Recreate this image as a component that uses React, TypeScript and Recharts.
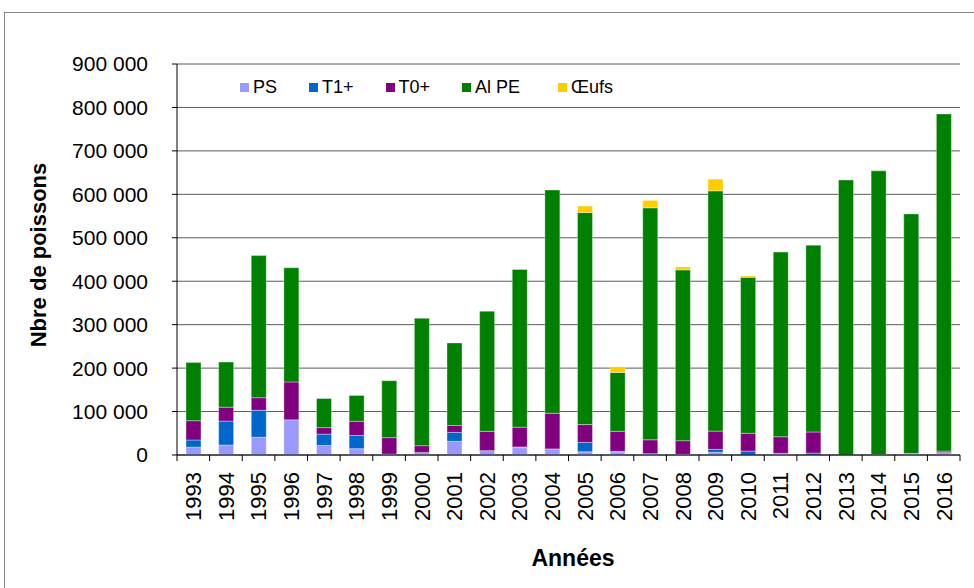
import React from 'react';
import { BarChart, Bar, XAxis, YAxis, CartesianGrid, Label } from 'recharts';

const years = ['1993', '1994', '1995', '1996', '1997', '1998', '1999', '2000', '2001', '2002', '2003', '2004',
  '2005', '2006', '2007', '2008', '2009', '2010', '2011', '2012', '2013', '2014', '2015', '2016'];

const ps = [18000, 23000, 41000, 81000, 22000, 14500, 2000, 3000, 31500, 10000, 17000, 14000,
  7500, 7000, 1000, 1500, 6000, 0, 2000, 0, 0, 0, 3500, 5500];
const t1 = [16500, 55000, 62000, 0, 26000, 30500, 0, 3000, 20500, 0, 1500, 0,
  21500, 1500, 2000, 0, 7000, 9000, 2000, 4500, 0, 1000, 0, 0];
const t0 = [44500, 32000, 29000, 87000, 15000, 32500, 38000, 15500, 16000, 44500, 45500, 82000,
  41000, 46000, 32000, 31500, 42000, 41000, 38000, 48500, 0, 0, 0, 3500];
const alpe = [134000, 104000, 327000, 263000, 67000, 59500, 131000, 293000, 190000, 276500, 363000, 514000,
  488000, 135500, 534000, 393000, 553000, 359000, 425000, 430000, 633000, 653000, 551500, 776000];
const oeufs = [0, 0, 0, 0, 0, 0, 0, 0, 0, 0, 0, 0,
  15000, 13000, 17000, 7000, 27000, 3000, 0, 0, 0, 0, 0, 0];

const yTicks = [0, 100000, 200000, 300000, 400000, 500000, 600000, 700000, 800000, 900000];

const series = [
  { key: 'ps', name: 'PS', color: '#9999FF' },
  { key: 't1', name: 'T1+', color: '#0066CC' },
  { key: 't0', name: 'T0+', color: '#800080' },
  { key: 'alpe', name: 'Al PE', color: '#008000' },
  { key: 'oeufs', name: 'Œufs', color: '#FFCC00' },
];

const data = years.map((year, i) => ({
  year,
  ps: ps[i],
  t1: t1[i],
  t0: t0[i],
  alpe: alpe[i],
  oeufs: oeufs[i],
}));

const FONT = '"Liberation Sans", Arial, sans-serif';
const PLOT_LEFT = 177;
const PLOT_RIGHT = 960;
const band = (PLOT_RIGHT - PLOT_LEFT) / years.length;

const fmt = (v: number) => String(v).replace(/\B(?=(\d{3})+(?!\d))/g, ' ');

// Excel puts the tick marks between categories, not under them
const YearTick = (props: any) => {
  const { x, y, payload, index } = props;
  const axisY = y - 17;
  return (
    <g>
      <line x1={x - band / 2} y1={axisY} x2={x - band / 2} y2={axisY + 6} stroke="#000" />
      {index === years.length - 1 && (
        <line x1={x + band / 2} y1={axisY} x2={x + band / 2} y2={axisY + 6} stroke="#000" />
      )}
      <text
        x={x}
        y={y}
        dy="0.36em"
        transform={`rotate(-90 ${x} ${y})`}
        textAnchor="end"
        fontSize={22}
        fontFamily={FONT}
        fill="#000"
      >
        {payload.value}
      </text>
    </g>
  );
};

const Legende = () => (
  <div
    style={{
      position: 'absolute',
      left: 240,
      top: 77,
      height: 20,
      display: 'flex',
      alignItems: 'center',
      fontFamily: FONT,
      fontSize: 18,
      color: '#000',
    }}
  >
    {series.map((s, i) => (
      <div key={s.key} style={{ display: 'flex', alignItems: 'center', marginRight: i === 3 ? 38 : 32 }}>
        <span style={{ width: 9, height: 9, background: s.color, marginRight: 4 }} />
        <span>{s.name}</span>
      </div>
    ))}
  </div>
);

export default function App() {
  return (
    <div style={{ position: 'relative', width: 974, height: 588, overflow: 'hidden', background: '#fff' }}>
      <style>{`body { margin: 0; }`}</style>
      <div
        style={{
          position: 'absolute',
          left: 4,
          top: 12,
          width: 1100,
          height: 1100,
          border: '1px solid #868686',
        }}
      />
      <BarChart
        width={974}
        height={588}
        data={data}
        margin={{ top: 64, right: 974 - PLOT_RIGHT, left: 0, bottom: 0 }}
        barSize={15}
        style={{ position: 'absolute', left: 0, top: 0 }}
      >
        <CartesianGrid vertical={false} stroke="#5a5a5a" />
        <XAxis
          dataKey="year"
          interval={0}
          height={133}
          axisLine={{ stroke: '#000' }}
          tickLine={false}
          tickSize={6}
          tickMargin={11}
          tick={<YearTick />}
        >
          <Label
            content={() => (
              <text x={573} y={566} textAnchor="middle" fontSize={23} fontWeight="bold" fontFamily={FONT} fill="#000">
                Années
              </text>
            )}
          />
        </XAxis>
        <XAxis xAxisId="top" orientation="top" dataKey="year" height={0} tick={false} tickLine={false}
          axisLine={{ stroke: '#8c8c8c', strokeWidth: 2 }} />
        <YAxis
          width={PLOT_LEFT}
          domain={[0, 900000]}
          ticks={yTicks}
          interval={0}
          tickFormatter={fmt}
          axisLine={{ stroke: '#000' }}
          tickLine={{ stroke: '#000' }}
          tickSize={5}
          tickMargin={24}
          tick={{ fontSize: 21, fontFamily: FONT, fill: '#000' }}
        >
          <Label
            content={() => (
              <text
                x={38}
                y={255}
                dy="0.36em"
                transform="rotate(-90 38 255)"
                textAnchor="middle"
                fontSize={22}
                fontWeight="bold"
                fontFamily={FONT}
                fill="#000"
              >
                Nbre de poissons
              </text>
            )}
          />
        </YAxis>
        <YAxis yAxisId="right" orientation="right" width={0} domain={[0, 900000]} tick={false} tickLine={false}
          axisLine={{ stroke: '#8c8c8c', strokeWidth: 2 }} />
        {series.map(s => (
          <Bar
            key={s.key}
            dataKey={s.key}
            name={s.name}
            stackId="a"
            fill={s.color}
            stroke="#ffffff"
            strokeOpacity={0.35}
            isAnimationActive={false}
          />
        ))}
      </BarChart>
      <Legende />
    </div>
  );
}
